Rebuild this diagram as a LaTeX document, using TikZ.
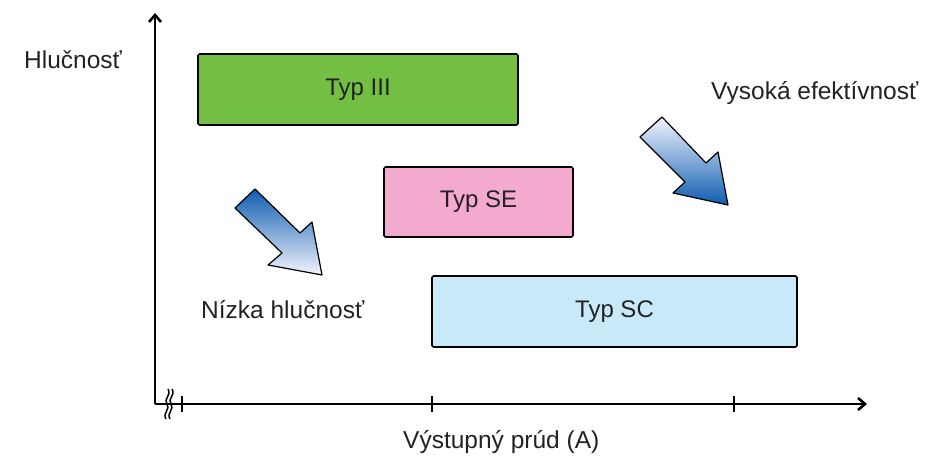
\documentclass[tikz,border=0pt]{standalone}
\usepackage{fontspec}
\setmainfont{Liberation Sans}
\usetikzlibrary{arrows.meta}
\definecolor{gfill}{HTML}{72BF44}
\definecolor{pfill}{HTML}{F4A9CE}
\definecolor{bfill}{HTML}{C7E9F8}
\definecolor{adark}{HTML}{0E5CB0}
\definecolor{alight}{HTML}{F2F4FC}
\definecolor{txt}{HTML}{222222}
\tikzset{
  typbox/.style={draw=black, line width=1.6pt, rounded corners=1.5pt, text=txt, font=\fontsize{24}{28}\selectfont},
  lbl/.style={font=\fontsize{24.5}{28}\selectfont, inner sep=0pt, text=txt, anchor=base west},
  axisline/.style={line width=2.6pt},
  blockarrow/.style={draw=black, line width=1.2pt, line join=round},
}
\begin{document}
\begin{tikzpicture}[x=1pt,y=-1pt]
\useasboundingbox (0,0) rectangle (929,466);
% axes
\coordinate (o) at (155,404);
\coordinate (ytip) at (155,13);
\coordinate (xtip) at (867,404);
\draw[axisline, -{Straight Barb[length=7pt,width=12pt]}] (o) -- (ytip);
\draw[axisline, -{Straight Barb[length=7pt,width=12pt]}] (o) -- (xtip);
% break mark
\draw[line width=1.5pt] (168,389) .. controls (172,395) and (163,399) .. (167,404) .. controls (171,409) and (162,413) .. (166,419);
\draw[line width=1.5pt] (172,389) .. controls (176,395) and (167,399) .. (171,404) .. controls (175,409) and (166,413) .. (170,419);
% ticks
\foreach \tx in {182,432,734} \draw[line width=2.6pt] (\tx,396) -- (\tx,412);
% boxes
\node[typbox, fill=gfill, minimum width=320pt, minimum height=71pt] (t3) at (358,89.5) {Typ III};
\node[typbox, fill=pfill, minimum width=189pt, minimum height=70pt] (tse) at (478.5,202) {Typ SE};
\node[typbox, fill=bfill, minimum width=365pt, minimum height=71pt] (tsc) at (614.5,311.5) {Typ SC};
% labels
\node[lbl] (hl) at (24,68) {Hlučnosť};
\node[lbl] (ve) at (711,99) {Vysoká efektívnosť};
\node[lbl] (nh) at (201,318) {Nízka hlučnosť};
\node[lbl] (vp) at (403,448) {Výstupný prúd (A)};
% block arrows
\path[blockarrow, shading angle=45, top color=adark, bottom color=alight]
  (235,208) -- (255,189) -- (300,233) -- (312,222) -- (322,275) -- (268,265) -- (282,253) -- cycle;
\path[blockarrow, shading angle=45, top color=alight, bottom color=adark]
  (640,137) -- (662,117) -- (706,163) -- (718,152) -- (728,205) -- (673,193) -- (685,182) -- cycle;
\end{tikzpicture}
\end{document}
